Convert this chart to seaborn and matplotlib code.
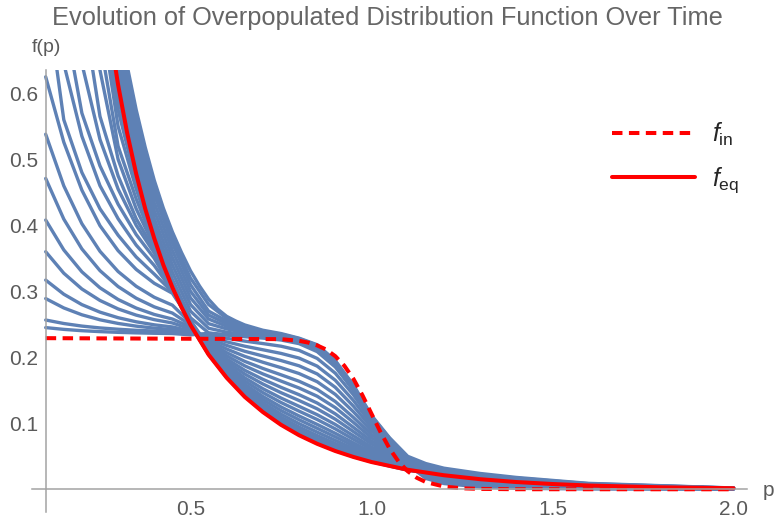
import matplotlib
matplotlib.use("Agg")
import matplotlib.pyplot as plt
import pandas as pd
import seaborn as sns

# ---------------- data ----------------
p = [0.10, 0.15, 0.20, 0.25, 0.30, 0.35, 0.40, 0.45, 0.50, 0.55, 0.60, 0.65, 0.70, 0.75,
     0.80, 0.85, 0.90, 0.95, 1.00, 1.05, 1.10, 1.15, 1.20, 1.30, 1.40, 1.60, 2.00]

p_in = [0.10, 0.75, 0.80, 0.825, 0.85, 0.875, 0.90, 0.925, 0.95, 0.975, 1.00, 1.025,
        1.05, 1.075, 1.10, 1.125, 1.15, 1.20, 1.25, 1.30, 1.40, 2.00]
f_in = [0.229, 0.2275, 0.225, 0.2223, 0.218, 0.2117, 0.2017, 0.1872, 0.1674, 0.1425,
        0.1145, 0.0866, 0.0616, 0.0418, 0.0274, 0.0175, 0.011, 0.0042, 0.0015, 0.0006,
        0.0001, 0.0]

p_eq = [0.25, 0.275, 0.30, 0.325, 0.35, 0.375, 0.40, 0.425, 0.45, 0.475, 0.50, 0.55,
        0.60, 0.65, 0.70, 0.75, 0.80, 0.85, 0.90, 0.95, 1.00, 1.10, 1.20, 1.30, 1.40,
        1.50, 1.60, 1.80, 2.00]
f_eq = [0.806, 0.700, 0.613, 0.540, 0.478, 0.425, 0.380, 0.340, 0.306, 0.276, 0.249,
        0.204, 0.169, 0.140, 0.117, 0.0977, 0.0819, 0.0689, 0.058, 0.049, 0.0413, 0.0296,
        0.0213, 0.0153, 0.0110, 0.0080, 0.0057, 0.0030, 0.0016]

# outer edge of the late-time band (sampled more finely)
p_b8 = [0.10, 0.15, 0.20, 0.25, 0.275, 0.30, 0.325, 0.35, 0.375, 0.40, 0.425, 0.45, 0.475,
        0.50, 0.525, 0.55, 0.575, 0.60, 0.625, 0.65, 0.70, 0.75, 0.80, 0.85, 0.90, 0.95,
        1.00, 1.05, 1.10, 1.15, 1.20, 1.30, 1.40, 1.60, 2.00]
B8 = [3.5, 2.1, 1.4, 1.0, 0.845, 0.72, 0.642, 0.575, 0.518, 0.468, 0.426, 0.39, 0.359,
      0.331, 0.308, 0.288, 0.273, 0.262, 0.255, 0.249, 0.241, 0.236, 0.229, 0.219, 0.195,
      0.158, 0.112, 0.078, 0.050, 0.039, 0.032, 0.024, 0.018, 0.009, 0.002]

E1 = [0.245, 0.2423, 0.2403, 0.2389, 0.2378, 0.2370, 0.2364, 0.236, 0.234, 0.2363, 0.2336, 0.2312, 0.2291, 0.2262, 0.2207, 0.2086, 0.1853, 0.1507, 0.1085, 0.0683, 0.0376, 0.0165, 0.0087, 0.0036, 0.0015, 0.0005, 0.0001]
E2 = [0.2565, 0.2512, 0.2473, 0.2445, 0.2425, 0.2409, 0.2398, 0.239, 0.236, 0.2339, 0.2288, 0.2245, 0.2208, 0.2168, 0.2105, 0.1983, 0.1759, 0.1432, 0.104, 0.0683, 0.0389, 0.019, 0.0112, 0.0058, 0.0032, 0.0014, 0.0003]
E3 = [0.289, 0.2748, 0.2644, 0.2568, 0.2513, 0.2472, 0.2442, 0.242, 0.238, 0.2312, 0.2234, 0.2168, 0.2114, 0.2059, 0.1988, 0.1866, 0.1652, 0.1346, 0.0989, 0.068, 0.0402, 0.0216, 0.0139, 0.0082, 0.005, 0.0023, 0.0005]
E4 = [0.317, 0.2956, 0.2798, 0.2684, 0.260, 0.2538, 0.2492, 0.246, 0.240, 0.2285, 0.218, 0.2091, 0.202, 0.1951, 0.1871, 0.1748, 0.1545, 0.126, 0.0937, 0.0677, 0.0415, 0.0242, 0.0165, 0.0105, 0.0068, 0.0033, 0.0007]
E5 = [0.360, 0.3274, 0.3035, 0.2861, 0.2733, 0.2639, 0.257, 0.252, 0.243, 0.2258, 0.2125, 0.2014, 0.1925, 0.1843, 0.1754, 0.163, 0.1438, 0.1175, 0.0883, 0.0662, 0.0418, 0.026, 0.0184, 0.0122, 0.0081, 0.004, 0.001]
E6 = [0.408, 0.3627, 0.3295, 0.3053, 0.2876, 0.2746, 0.2649, 0.258, 0.246, 0.223, 0.2071, 0.1938, 0.1831, 0.1735, 0.1637, 0.1513, 0.133, 0.1089, 0.0829, 0.0646, 0.042, 0.0276, 0.0203, 0.0138, 0.0094, 0.0047, 0.0011]
E7 = [0.471, 0.4094, 0.3642, 0.3313, 0.3072, 0.2895, 0.2764, 0.267, 0.249, 0.2207, 0.2023, 0.187, 0.1748, 0.164, 0.1535, 0.141, 0.1237, 0.1014, 0.0779, 0.0622, 0.0414, 0.0282, 0.0212, 0.0147, 0.0101, 0.0051, 0.0012]
E8 = [0.538, 0.4598, 0.4024, 0.3606, 0.33, 0.3076, 0.2909, 0.279, 0.252, 0.2183, 0.1976, 0.1803, 0.1666, 0.1545, 0.1433, 0.1307, 0.1143, 0.0939, 0.073, 0.0597, 0.0408, 0.0289, 0.0221, 0.0155, 0.0108, 0.0054, 0.0013]
E9 = [0.625, 0.526, 0.4532, 0.3994, 0.3616, 0.3332, 0.3121, 0.297, 0.256, 0.2162, 0.1935, 0.1746, 0.1595, 0.1464, 0.1345, 0.1219, 0.1062, 0.0875, 0.0686, 0.0564, 0.0392, 0.0285, 0.0221, 0.0155, 0.0109, 0.0056, 0.0014]
M1 = [0.76, 0.56, 0.48, 0.425, 0.385, 0.352, 0.326, 0.299, 0.254, 0.2142, 0.1894, 0.1688, 0.1524, 0.1383, 0.1257, 0.113, 0.0982, 0.0811, 0.064, 0.053, 0.0377, 0.0281, 0.0221, 0.0155, 0.011, 0.0056, 0.0014]
M2 = [0.95, 0.645, 0.535, 0.46, 0.41, 0.37, 0.339, 0.301, 0.253, 0.2125, 0.186, 0.164, 0.1465, 0.1315, 0.1184, 0.1057, 0.0915, 0.0758, 0.0603, 0.0501, 0.0363, 0.0276, 0.022, 0.0154, 0.011, 0.0057, 0.0015]
M3 = [1.1, 0.72, 0.57, 0.49, 0.432, 0.386, 0.35, 0.302, 0.252, 0.2108, 0.1826, 0.1592, 0.1406, 0.1248, 0.1111, 0.0983, 0.0848, 0.0704, 0.0564, 0.047, 0.0348, 0.0271, 0.0218, 0.0153, 0.011, 0.0057, 0.0015]
M4 = [1.35, 0.86, 0.645, 0.53, 0.455, 0.40, 0.358, 0.303, 0.251, 0.2094, 0.1799, 0.1554, 0.1359, 0.1193, 0.1053, 0.0924, 0.0794, 0.0661, 0.0534, 0.0444, 0.0334, 0.0265, 0.0216, 0.0151, 0.0109, 0.0057, 0.0015]
M5 = [1.6, 1.0, 0.74, 0.565, 0.475, 0.41, 0.363, 0.304, 0.25, 0.2081, 0.1772, 0.1515, 0.1312, 0.1139, 0.0994, 0.0866, 0.0741, 0.0618, 0.0503, 0.0417, 0.0321, 0.0259, 0.0213, 0.0149, 0.0108, 0.0056, 0.0016]
M6 = [1.85, 1.15, 0.84, 0.635, 0.5, 0.425, 0.368, 0.305, 0.25, 0.2069, 0.1748, 0.1482, 0.127, 0.1092, 0.0943, 0.0814, 0.0694, 0.0581, 0.0477, 0.0398, 0.0312, 0.0256, 0.0213, 0.0149, 0.011, 0.0058, 0.0016]
M7 = [2.0, 1.25, 0.9, 0.68, 0.52, 0.44, 0.372, 0.305, 0.25, 0.2059, 0.1727, 0.1453, 0.1235, 0.1051, 0.0899, 0.077, 0.0654, 0.0549, 0.0454, 0.0379, 0.0303, 0.0254, 0.0213, 0.0149, 0.011, 0.0058, 0.0016]
M8 = [2.2, 1.35, 0.96, 0.73, 0.55, 0.455, 0.375, 0.306, 0.25, 0.205, 0.171, 0.1429, 0.1205, 0.1018, 0.0863, 0.0733, 0.062, 0.0522, 0.0435, 0.0366, 0.0297, 0.0251, 0.0213, 0.0149, 0.011, 0.0058, 0.0016]
M9 = [2.35, 1.45, 1.01, 0.76, 0.575, 0.465, 0.377, 0.306, 0.249, 0.2045, 0.170, 0.1414, 0.1188, 0.0997, 0.0841, 0.0711, 0.060, 0.0506, 0.0424, 0.0355, 0.0291, 0.0251, 0.0213, 0.0149, 0.011, 0.0058, 0.0016]
M10 = [2.5, 1.53, 1.06, 0.785, 0.595, 0.472, 0.378, 0.306, 0.249, 0.2042, 0.1693, 0.1405, 0.1176, 0.0984, 0.0826, 0.0696, 0.0587, 0.0495, 0.0417, 0.0352, 0.029, 0.0251, 0.0213, 0.0149, 0.011, 0.0058, 0.0016]
B1 = [2.7, 1.66, 1.14, 0.83, 0.628, 0.488, 0.389, 0.318, 0.260, 0.237, 0.234, 0.2326, 0.2305, 0.229, 0.2234, 0.2134, 0.188, 0.1496, 0.1036, 0.071, 0.0395, 0.0264, 0.0194, 0.0142, 0.011, 0.0055, 0.0013]
B2 = [2.8, 1.72, 1.18, 0.855, 0.642, 0.502, 0.399, 0.329, 0.270, 0.244, 0.238, 0.2348, 0.232, 0.230, 0.2242, 0.2142, 0.189, 0.1508, 0.1048, 0.072, 0.041, 0.0282, 0.0212, 0.0156, 0.012, 0.006, 0.0014]
B3 = [2.9, 1.78, 1.22, 0.875, 0.655, 0.515, 0.410, 0.340, 0.280, 0.251, 0.243, 0.2375, 0.2335, 0.231, 0.225, 0.215, 0.190, 0.152, 0.106, 0.073, 0.0425, 0.030, 0.023, 0.017, 0.013, 0.0065, 0.0015]
B4 = [3.0, 1.84, 1.26, 0.9, 0.668, 0.528, 0.422, 0.351, 0.290, 0.258, 0.247, 0.240, 0.235, 0.232, 0.2258, 0.2158, 0.191, 0.1532, 0.1072, 0.074, 0.044, 0.0318, 0.0248, 0.0184, 0.014, 0.007, 0.0016]
B5 = [3.1, 1.9, 1.3, 0.925, 0.68, 0.541, 0.434, 0.362, 0.300, 0.264, 0.251, 0.2425, 0.2365, 0.233, 0.2266, 0.2166, 0.192, 0.1544, 0.1084, 0.075, 0.0455, 0.0336, 0.0266, 0.0198, 0.015, 0.0075, 0.0017]
B6 = [3.2, 1.96, 1.33, 0.95, 0.694, 0.554, 0.446, 0.373, 0.310, 0.270, 0.255, 0.2445, 0.238, 0.234, 0.2274, 0.2174, 0.193, 0.1556, 0.1096, 0.076, 0.047, 0.0354, 0.0284, 0.0212, 0.016, 0.008, 0.0018]
B7 = [3.35, 2.03, 1.37, 0.975, 0.707, 0.563, 0.456, 0.380, 0.320, 0.280, 0.259, 0.2467, 0.2395, 0.235, 0.2282, 0.2182, 0.194, 0.1568, 0.1108, 0.077, 0.0485, 0.0372, 0.0302, 0.0226, 0.017, 0.0085, 0.0019]

curve_names = ["E1", "E2", "E3", "E4", "E5", "E6", "E7", "E8", "E9",
               "M1", "M2", "M3", "M4", "M5", "M6", "M7", "M8", "M9", "M10",
               "B1", "B2", "B3", "B4", "B5", "B6", "B7"]
blue_curves = [E1, E2, E3, E4, E5, E6, E7, E8, E9,
               M1, M2, M3, M4, M5, M6, M7, M8, M9, M10,
               B1, B2, B3, B4, B5, B6, B7]

title = "Evolution of Overpopulated Distribution Function Over Time"
x_major = [0.5, 1.0, 1.5, 2.0]
x_labels = ["0.5", "1.0", "1.5", "2.0"]
y_major = [0.1, 0.2, 0.3, 0.4, 0.5, 0.6]
y_labels = ["0.1", "0.2", "0.3", "0.4", "0.5", "0.6"]

# ---------------- style ----------------
sns.set_style("white")
plt.rcParams["font.family"] = ["Liberation Sans", "DejaVu Sans"]
plt.rcParams["mathtext.fontset"] = "custom"
plt.rcParams["mathtext.rm"] = "Liberation Sans"
plt.rcParams["mathtext.it"] = "Liberation Sans:italic"

BLUE = "#5E81B5"
AXIS = "#a3a3a3"
LABEL = "#5a5a5a"
W, H = 775, 519

fig = plt.figure(figsize=(W / 100, H / 100), dpi=100)
ax = fig.add_axes([32 / W, 7 / H, 715 / W, 442 / H])

rows = []
for name, vals in zip(curve_names, blue_curves):
    for x, y in zip(p, vals):
        rows.append((name, x, y))
for x, y in zip(p_b8, B8):
    rows.append(("B8", x, y))
df = pd.DataFrame(rows, columns=["curve", "p", "f"])

sns.lineplot(data=df, x="p", y="f", units="curve", estimator=None, sort=False,
             color=BLUE, lw=2.4, legend=False, ax=ax, solid_joinstyle="round")
sns.lineplot(x=p_in, y=f_in, color="red", lw=2.9, linestyle=(0, (2.6, 1.6)),
             label=r"$f_{\mathrm{in}}$", ax=ax)
sns.lineplot(x=p_eq, y=f_eq, color="red", lw=2.9, label=r"$f_{\mathrm{eq}}$", ax=ax,
             solid_joinstyle="round")

ax.set_xlim(0.0622, 2.0373)
ax.set_ylim(-0.0344, 0.6353)
ax.set_xlabel("")
ax.set_ylabel("")

ax.spines["left"].set_position(("data", 0.1))
ax.spines["bottom"].set_position(("data", 0.0))
ax.spines["top"].set_visible(False)
ax.spines["right"].set_visible(False)
for s in ("left", "bottom"):
    ax.spines[s].set_color(AXIS)
    ax.spines[s].set_linewidth(1.1)

ax.set_xticks(x_major)
ax.set_xticklabels(x_labels)
ax.set_xticks([0.2, 0.3, 0.4, 0.6, 0.7, 0.8, 0.9, 1.1, 1.2, 1.3, 1.4, 1.6, 1.7, 1.8, 1.9],
              minor=True)
ax.set_yticks(y_major)
ax.set_yticklabels(y_labels)
ax.set_yticks([0.02, 0.04, 0.06, 0.08, 0.12, 0.14, 0.16, 0.18, 0.22, 0.24, 0.26, 0.28,
               0.32, 0.34, 0.36, 0.38, 0.42, 0.44, 0.46, 0.48, 0.52, 0.54, 0.56, 0.58, 0.62],
              minor=True)
ax.tick_params(which="both", direction="in", color=AXIS, width=1.0)
ax.tick_params(which="major", length=4.5, labelsize=15, labelcolor=LABEL)
ax.tick_params(which="minor", length=2.5)
ax.tick_params(axis="x", which="major", pad=8)
ax.tick_params(axis="y", which="major", pad=5.5)

fig.text(0.5, 1 - 18 / H, title, ha="center", va="center", fontsize=18.3, color="#666666")
fig.text(46 / W, 1 - 47 / H, "f(p)", ha="center", va="center", fontsize=14, color=LABEL)
fig.text(763 / W, 1 - 491 / H, "p", ha="left", va="center", fontsize=15, color=LABEL)

handles, labels = ax.get_legend_handles_labels()
ax.legend(handles, labels, loc="upper left", bbox_to_anchor=(612 / W, 1 - 121 / H),
          bbox_transform=fig.transFigure, frameon=False, fontsize=18,
          handlelength=3.3, handletextpad=0.7, labelspacing=0.7, borderpad=0,
          borderaxespad=0)

fig.savefig("out.png", dpi=100)
